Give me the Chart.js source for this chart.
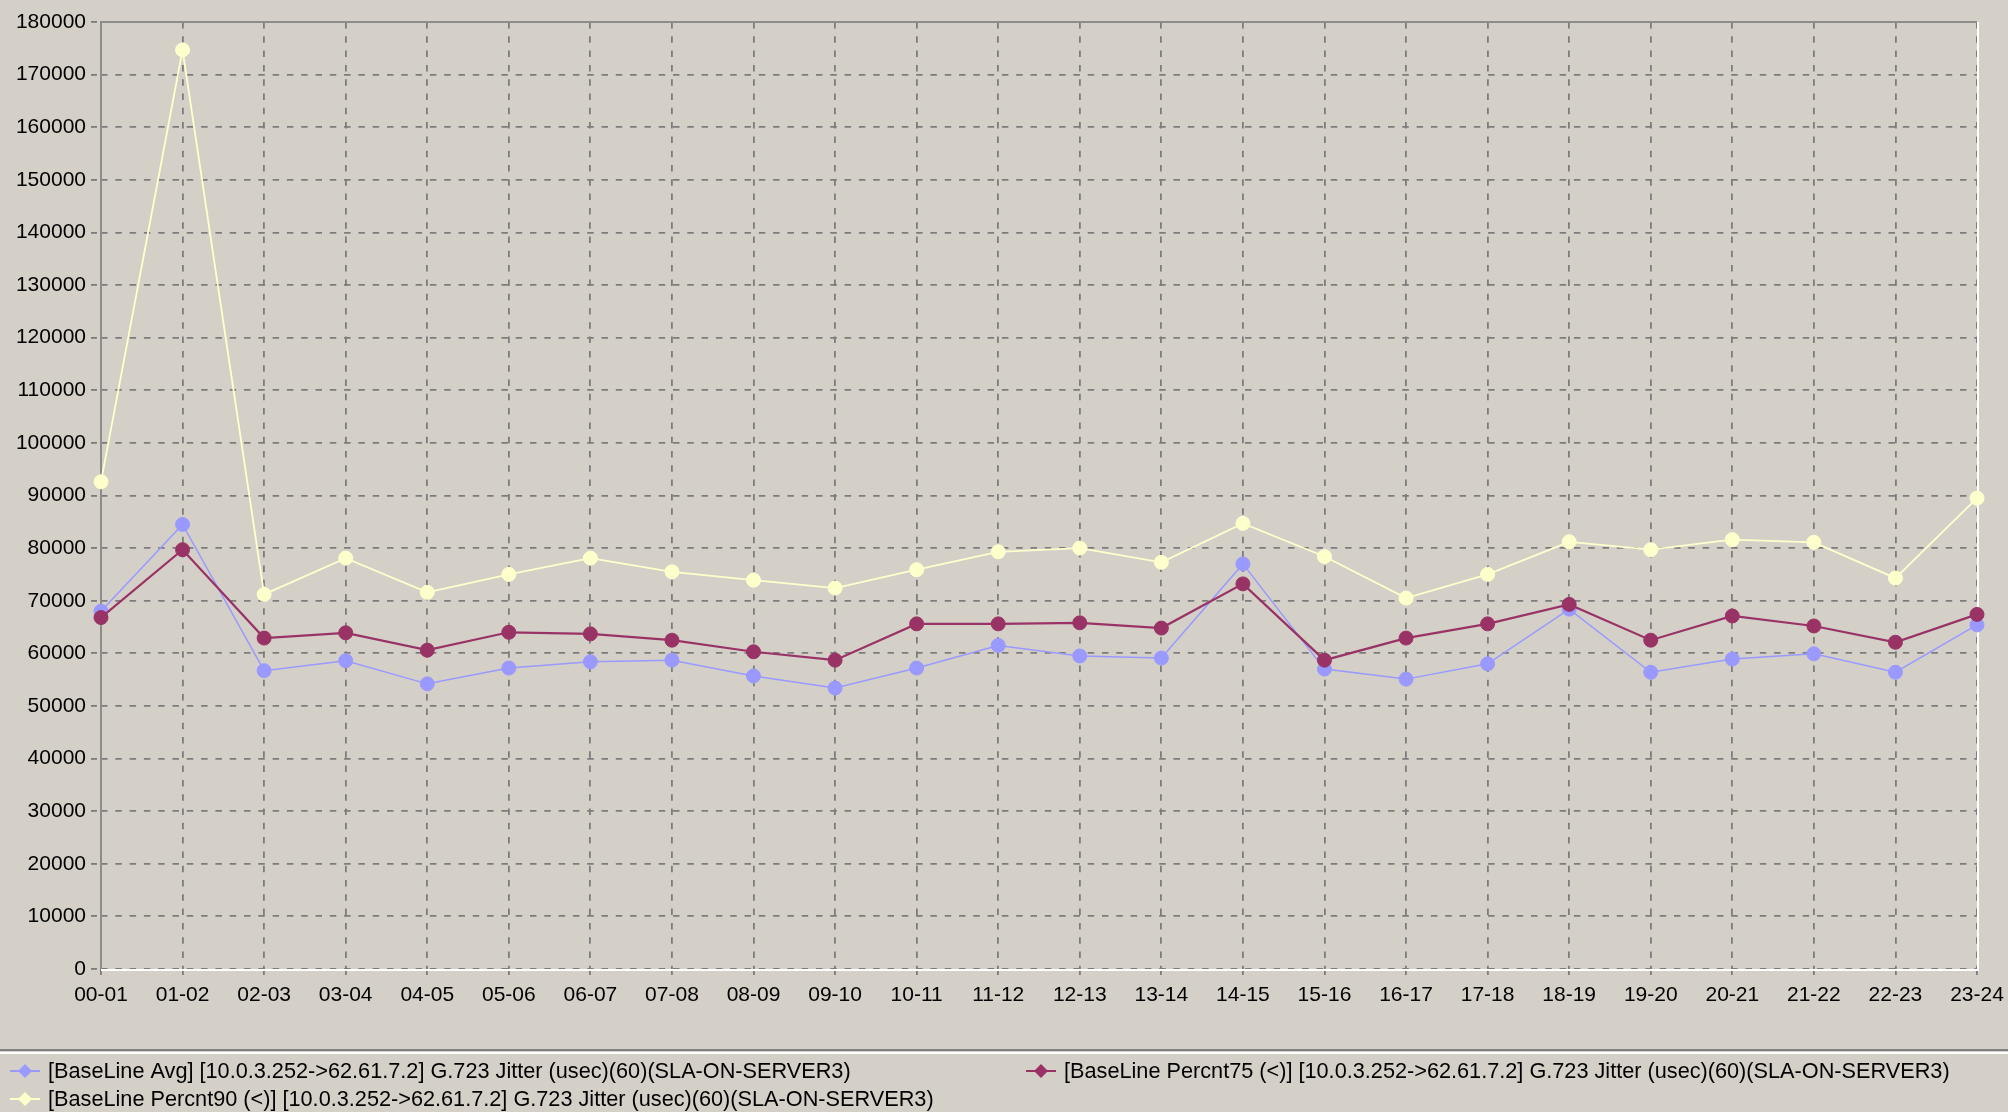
<!DOCTYPE html>
<html><head><meta charset="utf-8">
<script src="https://cdn.jsdelivr.net/npm/chart.js@4.4.1/dist/chart.umd.min.js"></script>
<style>html,body{margin:0;padding:0;background:#d4d0c8;overflow:hidden}#wrap{position:relative;width:2008px;height:1112px}canvas{display:block}</style>
</head><body><div id="wrap"><canvas id="c" width="2008" height="1112"></canvas></div>
<script>
const categories = ['00-01','01-02','02-03','03-04','04-05','05-06','06-07','07-08','08-09','09-10','10-11','11-12','12-13','13-14','14-15','15-16','16-17','17-18','18-19','19-20','20-21','21-22','22-23','23-24'];
const avgValues = [68000, 84500, 56700, 58600, 54200, 57200, 58400, 58700, 55700, 53400, 57200, 61500, 59500, 59100, 77000, 57000, 55100, 58000, 68400, 56400, 58900, 59900, 56400, 65400];
const p75Values = [66800, 79700, 62900, 63900, 60600, 64000, 63700, 62500, 60300, 58700, 65600, 65600, 65800, 64800, 73200, 58700, 62900, 65600, 69300, 62500, 67100, 65200, 62100, 67400];
const p90Values = [92600, 174700, 71200, 78100, 71600, 75000, 78100, 75500, 73900, 72400, 75900, 79300, 80000, 77300, 84700, 78400, 70500, 75000, 81200, 79700, 81600, 81100, 74300, 89500];
const seriesLabels = [
  '[BaseLine Avg] [10.0.3.252->62.61.7.2] G.723 Jitter (usec)(60)(SLA-ON-SERVER3)',
  '[BaseLine Percnt75 (<)] [10.0.3.252->62.61.7.2] G.723 Jitter (usec)(60)(SLA-ON-SERVER3)',
  '[BaseLine Percnt90 (<)] [10.0.3.252->62.61.7.2] G.723 Jitter (usec)(60)(SLA-ON-SERVER3)'
];
const yMin = 0, yMax = 180000, yStep = 10000;

const FONT = '"Liberation Sans", Arial, sans-serif';
const GRID = '#7c7c7c';
const DASH = [6.5, 7.8];

const framePlugin = {
  id: 'frame',
  beforeDatasetsDraw(chart) {
    const {ctx, chartArea: a} = chart;
    ctx.save();
    ctx.lineWidth = 2;
    ctx.strokeStyle = '#8c8c8c';
    ctx.beginPath(); ctx.moveTo(a.left, a.bottom); ctx.lineTo(a.left, a.top); ctx.lineTo(a.right, a.top); ctx.stroke();
    ctx.strokeStyle = '#ffffff';
    ctx.beginPath(); ctx.moveTo(a.left, a.bottom + 1); ctx.lineTo(a.right + 1, a.bottom + 1); ctx.lineTo(a.right + 1, a.top); ctx.stroke();
    ctx.restore();
  }
};

const legendPlugin = {
  id: 'customLegend',
  afterDraw(chart) {
    const ctx = chart.ctx;
    const W = chart.width;
    ctx.save();
    ctx.lineWidth = 2;
    ctx.strokeStyle = '#808080';
    ctx.beginPath(); ctx.moveTo(0, 1050); ctx.lineTo(W, 1050); ctx.stroke();
    ctx.strokeStyle = '#ffffff';
    ctx.beginPath(); ctx.moveTo(0, 1053); ctx.lineTo(W, 1053); ctx.stroke();
    const slots = [[10, 1071], [1026, 1071], [10, 1099]];
    chart.data.datasets.forEach((ds, i) => {
      const [x, y] = slots[i];
      ctx.strokeStyle = ds.borderColor;
      ctx.lineWidth = 2;
      ctx.beginPath(); ctx.moveTo(x, y); ctx.lineTo(x + 30, y); ctx.stroke();
      ctx.fillStyle = ds.backgroundColor;
      ctx.beginPath();
      const cx = x + 15, r = 7;
      ctx.moveTo(cx, y - r); ctx.lineTo(cx + r, y); ctx.lineTo(cx, y + r); ctx.lineTo(cx - r, y); ctx.closePath();
      ctx.fill();
      ctx.fillStyle = '#000';
      ctx.font = '21.7px ' + FONT;
      ctx.textBaseline = 'middle';
      ctx.textAlign = 'left';
      ctx.fillText(ds.label, x + 38, y + 1);
    });
    ctx.restore();
  }
};

function mkDs(label, data, color, width, order) {
  return {
    label, data, borderColor: color, backgroundColor: color,
    borderWidth: width, pointRadius: 7, pointHoverRadius: 7,
    pointBorderWidth: 1, pointBorderColor: color, pointBackgroundColor: color,
    pointStyle: 'circle', tension: 0, clip: false, order
  };
}

new Chart(document.getElementById('c'), {
  type: 'line',
  data: {
    labels: categories,
    datasets: [
      mkDs(seriesLabels[0], avgValues, '#9999ff', 1.5, 1),
      mkDs(seriesLabels[1], p75Values, '#993366', 2.2, 0),
      mkDs(seriesLabels[2], p90Values, '#ffffcc', 1.8, 2)
    ]
  },
  options: {
    responsive: false,
    devicePixelRatio: 1,
    animation: false,
    events: [],
    layout: { padding: { top: 22, right: 31, left: 0, bottom: 0 } },
    plugins: { legend: { display: false }, tooltip: { enabled: false } },
    scales: {
      x: {
        offset: false,
        border: { display: false, dash: DASH },
        grid: { color: GRID, lineWidth: 1.8, tickBorderDash: [6, 6], tickLength: 10, tickColor: GRID, tickWidth: 1.8 },
        ticks: { color: '#000', font: { family: FONT, size: 21 }, padding: 4, maxRotation: 0, autoSkip: false },
        afterFit(scale) { scale.height = 143; }
      },
      y: {
        min: yMin, max: yMax,
        border: { display: false, dash: DASH },
        grid: { color: GRID, lineWidth: 1.8, tickBorderDash: [6, 6], tickLength: 10, tickColor: GRID, tickWidth: 1.8 },
        ticks: { stepSize: yStep, color: '#000', font: { family: FONT, size: 21 }, padding: 5, callback: v => String(v) },
        afterFit(scale) { scale.width = 101; }
      }
    }
  },
  plugins: [framePlugin, legendPlugin]
});
</script>
</body></html>
